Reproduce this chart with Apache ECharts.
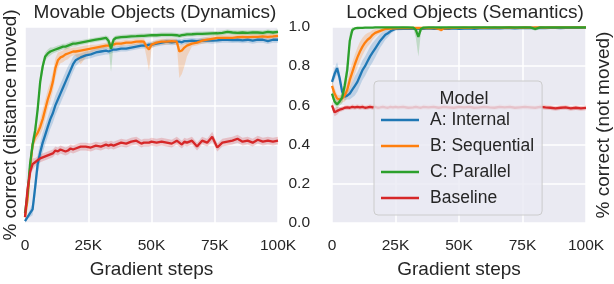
<!DOCTYPE html>
<html><head><meta charset="utf-8">
<script src="https://cdn.jsdelivr.net/npm/echarts@6/dist/echarts.min.js"></script>
<style>html,body{margin:0;padding:0;background:#fff}#c{width:614px;height:284px}</style>
</head><body><div id="c"></div>
<script>
// ---------- data (x in thousands of gradient steps) ----------
const names = ['A: Internal', 'B: Sequential', 'C: Parallel', 'Baseline'];
const xTicks = [0, 25, 50, 75, 100];

// Left panel: Movable Objects (Dynamics)
const xL = [0,1,2,3,4,5,6,7,8,9,10,11,12,13,14,15,16,17,18,19,20,22,24,26,28,30,32,33,34,35,36,38,40,42,44,46,47,48,49,50,52,54,56,58,60,61,62,63,64,66,68,70,72,74,76,78,80,82,84,86,88,90,92,94,96,98,100];
const blueL = [0.01,0.03,0.05,0.07,0.18,0.30,0.36,0.41,0.45,0.49,0.53, 0.56,0.60,0.63,0.66,0.69,0.72,0.75,0.78,0.81,0.83, 0.845,0.855,0.86,0.87,0.875,0.88, 0.875,0.88,0.885, 0.885,0.89,0.89,0.895,0.90,0.905, 0.905,0.905,0.91,0.91, 0.915,0.92,0.925,0.922,0.925, 0.925,0.922,0.928,0.928, 0.93,0.928,0.93,0.932,0.93,0.932,0.935,0.935,0.933,0.935,0.932,0.935,0.93,0.935,0.935,0.928,0.935,0.935];
const blueLSpread = [0.01,0.01,0.02,0.03,0.05,0.05,0.05,0.05,0.05,0.05,0.05, 0.05,0.05,0.05,0.05,0.05,0.05,0.05,0.04,0.04,0.03, 0.02,0.02,0.02,0.02,0.02,0.02, 0.015,0.015,0.015, 0.015,0.015,0.015,0.015,0.015,0.015, 0.015,0.015,0.015,0.015, 0.015,0.015,0.015,0.015,0.015, 0.015,0.015,0.015,0.015, 0.015,0.015,0.015,0.015,0.015,0.015,0.015,0.015,0.015,0.015,0.015,0.015,0.015,0.015,0.015,0.015,0.015,0.015];
const orangeL = [0.03,0.12,0.28,0.40,0.44,0.46,0.49,0.53,0.58,0.63,0.67, 0.72,0.79,0.83,0.845,0.85,0.86,0.865,0.87,0.875,0.875, 0.88,0.885,0.89,0.895,0.90,0.905, 0.905,0.91,0.91, 0.915,0.915,0.92,0.92,0.925,0.926, 0.925,0.90,0.885,0.91, 0.92,0.925,0.925,0.928,0.925, 0.875,0.88,0.895,0.905, 0.915,0.92,0.93,0.935,0.94,0.945,0.945,0.945,0.945,0.948,0.95,0.948,0.95,0.95,0.952,0.95,0.952,0.955];
const orangeLLo = [0.01,0.03,0.04,0.04,0.03,0.03,0.04,0.05,0.05,0.05,0.05, 0.05,0.05,0.04,0.03,0.03,0.03,0.03,0.02,0.02,0.02, 0.07,0.04,0.02,0.015,0.015,0.015, 0.015,0.015,0.015, 0.015,0.015,0.015,0.015,0.015,0.015, 0.015,0.05,0.11,0.02, 0.015,0.015,0.015,0.015,0.015, 0.135,0.12,0.095,0.055, 0.015,0.015,0.015,0.015,0.015,0.015,0.015,0.015,0.015,0.015,0.015,0.015,0.015,0.015,0.015,0.015,0.015,0.015];
const orangeLHi = [0.01,0.03,0.04,0.04,0.03,0.03,0.04,0.05,0.05,0.05,0.05, 0.05,0.05,0.04,0.03,0.03,0.03,0.03,0.02,0.02,0.02, 0.02,0.02,0.02,0.015,0.015,0.015, 0.015,0.015,0.015, 0.015,0.015,0.015,0.015,0.015,0.015, 0.015,0.02,0.03,0.015, 0.015,0.015,0.015,0.015,0.015, 0.03,0.03,0.02,0.015, 0.015,0.015,0.015,0.015,0.015,0.015,0.015,0.015,0.015,0.015,0.015,0.015,0.015,0.015,0.015,0.015,0.015,0.015];
const greenL = [0.05,0.15,0.30,0.40,0.47,0.58,0.72,0.80,0.85,0.865,0.875, 0.88,0.885,0.89,0.895,0.90,0.90,0.905,0.91,0.915,0.915, 0.92,0.925,0.93,0.935,0.94,0.945, 0.93,0.89,0.935, 0.945,0.948,0.95,0.952,0.953,0.955, 0.955,0.956,0.957,0.958, 0.958,0.96,0.96,0.96,0.958, 0.955,0.958,0.96,0.962, 0.963,0.965,0.965,0.966,0.967,0.968,0.97,0.975,0.972,0.97,0.972,0.97,0.973,0.972,0.97,0.975,0.972,0.975];
const greenLLo = [0.02,0.03,0.04,0.04,0.04,0.04,0.04,0.03,0.02,0.02,0.02, 0.015,0.015,0.015,0.015,0.015,0.015,0.015,0.015,0.015,0.015, 0.012,0.012,0.012,0.012,0.012,0.012, 0.03,0.12,0.02, 0.012,0.012,0.012,0.012,0.012,0.012, 0.012,0.012,0.012,0.012, 0.012,0.012,0.012,0.012,0.012, 0.012,0.012,0.012,0.012, 0.012,0.012,0.012,0.012,0.012,0.012,0.012,0.012,0.012,0.012,0.012,0.012,0.012,0.012,0.012,0.012,0.012,0.012];
const greenLHi = [0.02,0.03,0.04,0.04,0.04,0.04,0.04,0.03,0.02,0.02,0.02, 0.015,0.015,0.015,0.015,0.015,0.015,0.015,0.015,0.015,0.015, 0.012,0.012,0.012,0.012,0.012,0.012, 0.02,0.03,0.015, 0.012,0.012,0.012,0.012,0.012,0.012, 0.012,0.012,0.012,0.012, 0.012,0.012,0.012,0.012,0.012, 0.012,0.012,0.012,0.012, 0.012,0.012,0.012,0.012,0.012,0.012,0.012,0.012,0.012,0.012,0.012,0.012,0.012,0.012,0.012,0.012,0.012,0.012];
const redL = [0.03,0.17,0.26,0.30,0.31,0.32,0.33,0.335,0.34,0.345,0.35, 0.355,0.37,0.365,0.375,0.37,0.365,0.37,0.38,0.375,0.38, 0.39,0.39,0.385,0.395,0.39,0.40, 0.395,0.40,0.395, 0.40,0.41,0.405,0.415,0.42,0.405, 0.41,0.41,0.41,0.415, 0.41,0.415,0.41,0.405,0.42, 0.41,0.40,0.415,0.41, 0.42,0.39,0.42,0.41,0.44,0.385,0.41,0.415,0.42,0.43,0.415,0.42,0.41,0.425,0.415,0.42,0.415,0.42];
const redLSpread = [0.03,0.03,0.03,0.03,0.02,0.02,0.02,0.02,0.02,0.02,0.02, 0.02,0.02,0.02,0.02,0.02,0.02,0.02,0.02,0.02,0.02, 0.02,0.02,0.02,0.02,0.02,0.02, 0.02,0.02,0.02, 0.02,0.02,0.02,0.02,0.02,0.02, 0.02,0.02,0.02,0.02, 0.02,0.02,0.02,0.02,0.02, 0.02,0.02,0.02,0.02, 0.02,0.02,0.02,0.02,0.025,0.02,0.02,0.02,0.02,0.02,0.02,0.02,0.02,0.02,0.02,0.02,0.02,0.02];

// Right panel: Locked Objects (Semantics)
const xR = [0,1,2,3,4,5,6,7,8,9,10,11,12,13,14,15,16,17,18,19,20,21,22,23,24,25,26,28,30,32,33,34,35,36,38,40,42,43,44,46,48,50,52,54,56,58,60,62,64,66,68,70,72,74,76,78,80,82,84,86,88,90,92,94,96,98,100];
const blueR = [0.72,0.76,0.79,0.74,0.67,0.645,0.65,0.66,0.68,0.70,0.72, 0.75,0.78,0.80,0.825,0.85,0.87,0.89,0.91,0.93,0.945, 0.96,0.968,0.978,0.985,0.99,0.99, 0.99,0.992,0.99, 0.99,0.99,0.992, 0.99,0.993,0.99,0.992, 0.99, 0.992,0.99,0.993,0.99,0.992,0.993,0.99,0.993,0.995,0.993,0.995,0.993,0.995,0.995,0.993,0.995,0.995,0.996,0.995,0.996,0.995,0.996,0.996,0.995,0.996,0.996,0.997,0.996,0.997];
const blueRSpread = [0.02,0.03,0.03,0.03,0.02,0.02,0.02,0.03,0.04,0.05,0.05, 0.05,0.05,0.05,0.05,0.05,0.05,0.045,0.04,0.035,0.03, 0.025,0.02,0.015,0.01,0.008,0.008, 0.005,0.005,0.005, 0.005,0.005,0.005, 0.005,0.005,0.005,0.005, 0.005, 0.005,0.005,0.005,0.005,0.005,0.005,0.005,0.005,0.005,0.005,0.005,0.005,0.005,0.005,0.005,0.005,0.005,0.005,0.005,0.005,0.005,0.005,0.005,0.005,0.005,0.005,0.005,0.005,0.005];
const orangeR = [0.70,0.66,0.635,0.63,0.635,0.65,0.68,0.73,0.77,0.81,0.845, 0.875,0.90,0.92,0.935,0.945,0.96,0.97,0.975,0.98,0.985, 0.99,0.99,0.992,0.993,0.993,0.994, 0.995,0.994,0.995, 0.995,0.996,0.995, 0.996,0.995,0.996,0.99, 0.985, 0.993,0.995,0.996,0.996,0.997,0.996,0.997,0.997,0.996,0.997,0.997,0.997,0.997,0.998,0.997,0.997,0.998,0.997,0.998,0.998,0.997,0.998,0.998,0.998,0.998,0.998,0.998,0.998,0.998];
const orangeRSpread = [0.03,0.03,0.02,0.02,0.02,0.03,0.04,0.05,0.05,0.05,0.05, 0.05,0.045,0.04,0.035,0.03,0.025,0.02,0.015,0.012,0.01, 0.006,0.006,0.006,0.006,0.006,0.006, 0.006,0.006,0.006, 0.006,0.006,0.006, 0.006,0.006,0.006,0.008, 0.01, 0.006,0.006,0.006,0.006,0.006,0.006,0.006,0.006,0.006,0.006,0.006,0.006,0.006,0.006,0.006,0.006,0.006,0.006,0.006,0.006,0.006,0.006,0.006,0.006,0.006,0.006,0.006,0.006,0.006];
const greenR = [0.66,0.62,0.605,0.62,0.64,0.70,0.78,0.93,0.985,0.993,0.995, 0.996,0.996,0.997,0.997,0.997,0.997,0.998,0.998,0.998,0.998, 0.998,0.998,0.998,0.998,0.998,0.998, 0.998,0.998,0.997, 0.985,0.95,0.99, 0.997,0.998,0.998,0.998, 0.998, 0.998,0.998,0.998,0.998,0.998,0.998,0.998,0.998,0.998,0.998,0.998,0.998,0.998,0.998,0.998,0.998,0.998,0.998,0.99,0.998,0.998,0.998,0.998,0.998,0.998,0.998,0.998,0.998,0.998];
const greenRLo = [0.02,0.02,0.02,0.02,0.03,0.04,0.05,0.04,0.015,0.005,0.005, 0.004,0.004,0.004,0.004,0.004,0.004,0.004,0.004,0.004,0.004, 0.004,0.004,0.004,0.004,0.004,0.004, 0.004,0.004,0.004, 0.04,0.1,0.02, 0.004,0.004,0.004,0.004, 0.004, 0.004,0.004,0.004,0.004,0.004,0.004,0.004,0.004,0.004,0.004,0.004,0.004,0.004,0.004,0.004,0.004,0.004,0.004,0.01,0.004,0.004,0.004,0.004,0.004,0.004,0.004,0.004,0.004,0.004];
const greenRHi = [0.02,0.02,0.02,0.02,0.03,0.04,0.05,0.04,0.015,0.005,0.005, 0.004,0.004,0.004,0.004,0.004,0.004,0.004,0.004,0.004,0.004, 0.004,0.004,0.004,0.004,0.004,0.004, 0.004,0.004,0.004, 0.01,0.03,0.008, 0.004,0.004,0.004,0.004, 0.004, 0.004,0.004,0.004,0.004,0.004,0.004,0.004,0.004,0.004,0.004,0.004,0.004,0.004,0.004,0.004,0.004,0.004,0.004,0.004,0.004,0.004,0.004,0.004,0.004,0.004,0.004,0.004,0.004,0.004];
const redR = [0.60,0.565,0.572,0.578,0.582,0.588,0.59,0.588,0.592,0.59,0.593, 0.59,0.592,0.588,0.59,0.593,0.59,0.592,0.588,0.59,0.593, 0.59,0.588,0.592,0.59,0.593,0.59, 0.592,0.588,0.59, 0.593,0.59,0.588, 0.592,0.59,0.593,0.588, 0.59, 0.592,0.59,0.588,0.593,0.59,0.592,0.588,0.59,0.593,0.59,0.588,0.592,0.59,0.593,0.588,0.59,0.592,0.59,0.588,0.593,0.59,0.588,0.585,0.588,0.59,0.585,0.588,0.585,0.587];
const redRSpread = [0.02,0.02,0.02,0.012,0.012,0.012,0.012,0.012,0.012,0.012,0.012, 0.012,0.012,0.012,0.012,0.012,0.012,0.012,0.012,0.012,0.012, 0.012,0.012,0.012,0.012,0.012,0.012, 0.012,0.012,0.012, 0.012,0.012,0.012, 0.012,0.012,0.012,0.012, 0.012, 0.012,0.012,0.012,0.012,0.012,0.012,0.012,0.012,0.012,0.012,0.012,0.012,0.012,0.012,0.012,0.012,0.012,0.012,0.012,0.012,0.012,0.012,0.012,0.012,0.012,0.012,0.012,0.012,0.012];

// ---------- chart ----------
const colors = ['#1f77b4', '#ff7f0e', '#2ca02c', '#d62728'];
const FONT = "'Liberation Sans', Arial, sans-serif";
const TXT = '#262626';

const panels = [
  { x: xL, means: [blueL, orangeL, greenL, redL],
    lo: [blueLSpread, orangeLLo, greenLLo, redLSpread],
    hi: [blueLSpread, orangeLHi, greenLHi, redLSpread], xi: 0, yi: 0 },
  { x: xR, means: [blueR, orangeR, greenR, redR],
    lo: [blueRSpread, orangeRSpread, greenRLo, redRSpread],
    hi: [blueRSpread, orangeRSpread, greenRHi, redRSpread], xi: 1, yi: 1 }
];

const clamp = v => Math.max(0, Math.min(1, v));
const series = [];
panels.forEach((p, pi) => {
  p.means.forEach((m, si) => {
    const lo = p.lo[si], hi = p.hi[si], xs = p.x;
    series.push({
      type: 'custom', name: '_band' + pi + si, xAxisIndex: p.xi, yAxisIndex: p.yi,
      silent: true, z: 1,
      data: xs.map((x, i) => [x, m[i]]),
      encode: { x: 0, y: 1 },
      renderItem: function (params, api) {
        if (params.dataIndex !== 0) return null;
        const pts = [];
        for (let i = 0; i < xs.length; i++) pts.push(api.coord([xs[i], clamp(m[i] + hi[i])]));
        for (let i = xs.length - 1; i >= 0; i--) pts.push(api.coord([xs[i], clamp(m[i] - lo[i])]));
        return { type: 'polygon', shape: { points: pts },
          style: { fill: colors[si], opacity: 0.22 } };
      }
    });
  });
  p.means.forEach((m, si) => {
    series.push({
      type: 'line', name: names[si], xAxisIndex: p.xi, yAxisIndex: p.yi,
      data: p.x.map((x, i) => [x, m[i]]),
      symbol: 'none', showSymbol: false, color: colors[si],
      lineStyle: { width: 2.3, color: colors[si] }, z: 2
    });
  });
});

const xAxisBase = (gi) => ({
  type: 'value', gridIndex: gi, min: xTicks[0], max: xTicks[xTicks.length - 1], interval: 25,
  axisLine: { show: false }, axisTick: { show: false },
  splitLine: { show: true, lineStyle: { color: '#ffffff', width: 1.5 } },
  axisLabel: { color: TXT, fontSize: 15.5, fontFamily: FONT, margin: 15,
    showMinLabel: true, showMaxLabel: true,
    formatter: v => (v === 0 ? '0' : v + 'K') },
  name: 'Gradient steps', nameLocation: 'middle', nameGap: 37,
  nameTextStyle: { color: TXT, fontSize: 19, fontFamily: FONT }
});

const option = {
  animation: false,
  textStyle: { fontFamily: FONT },
  title: [
    { text: 'Movable Objects (Dynamics)', left: 150, top: -2, textAlign: 'center',
      textStyle: { color: TXT, fontSize: 19, fontWeight: 'normal', fontFamily: FONT } },
    { text: 'Locked Objects (Semantics)', left: 460, top: -2, textAlign: 'center',
      textStyle: { color: TXT, fontSize: 19, fontWeight: 'normal', fontFamily: FONT } },
    { text: 'Model', left: 459, top: 85, textAlign: 'center', z: 30,
      textStyle: { color: TXT, fontSize: 18, fontWeight: 'normal', fontFamily: FONT } }
  ],
  legend: {
    data: names, orient: 'vertical', left: 374, top: 81, z: 20,
    padding: [29, 8, 7, 7], itemGap: 6, itemWidth: 38, itemHeight: 2.5, icon: 'rect',
    backgroundColor: 'rgba(234,234,242,0.8)', borderColor: '#cccccc', borderWidth: 1, borderRadius: 4,
    textStyle: { color: TXT, fontSize: 17.5, fontFamily: FONT, lineHeight: 20, padding: [0, 0, 0, 6] },
    selectedMode: false
  },
  grid: [
    { left: 22, right: 336, top: 27, bottom: 59, show: true, backgroundColor: '#EAEAF2', borderWidth: 0 },
    { left: 332, right: 26, top: 27, bottom: 59, show: true, backgroundColor: '#EAEAF2', borderWidth: 0 }
  ],
  xAxis: [xAxisBase(0), xAxisBase(1)],
  yAxis: [
    { type: 'value', gridIndex: 0, min: 0, max: 1, interval: 0.2,
      axisLine: { show: false }, axisTick: { show: false }, axisLabel: { show: false },
      splitLine: { show: true, lineStyle: { color: '#ffffff', width: 1.5 } },
      name: '% correct (distance moved)', nameLocation: 'middle', nameGap: 5,
      nameTextStyle: { color: TXT, fontSize: 19, fontFamily: FONT } },
    { type: 'value', gridIndex: 1, min: 0, max: 1, interval: 0.2, position: 'left',
      axisLine: { show: false }, axisTick: { show: false },
      axisLabel: { color: TXT, fontSize: 15.5, fontFamily: FONT, margin: 22, formatter: v => v.toFixed(1) },
      splitLine: { show: true, lineStyle: { color: '#ffffff', width: 1.5 } } },
    { type: 'value', gridIndex: 1, min: 0, max: 1, interval: 0.2, position: 'right',
      axisLine: { show: false }, axisTick: { show: false }, axisLabel: { show: false }, splitLine: { show: false },
      name: '% correct (not moved)', nameLocation: 'middle', nameGap: 8,
      nameTextStyle: { color: TXT, fontSize: 19, fontFamily: FONT } }
  ],
  series: series
};

const chart = echarts.init(document.getElementById('c'), null, { renderer: 'canvas' });
chart.setOption(option);
</script>
</body></html>
